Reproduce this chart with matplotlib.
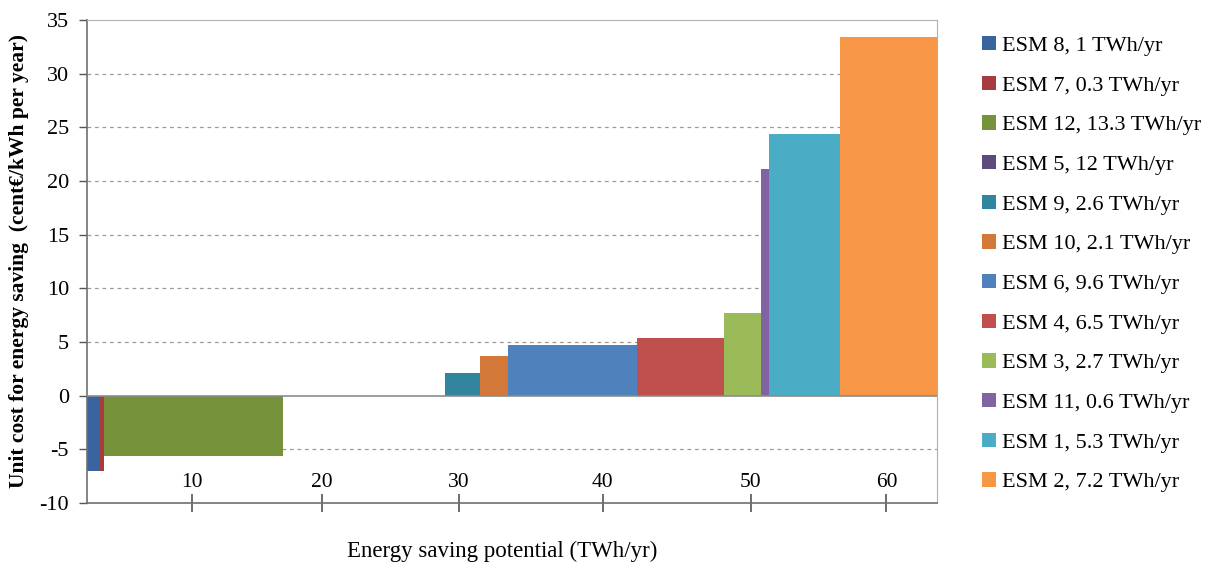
import matplotlib
matplotlib.use("Agg")
import matplotlib.pyplot as plt
import numpy as np

# Data
labels = ["ESM 8, 1 TWh/yr", "ESM 7, 0.3 TWh/yr", "ESM 12, 13.3 TWh/yr",
          "ESM 5, 12 TWh/yr", "ESM 9, 2.6 TWh/yr", "ESM 10, 2.1 TWh/yr",
          "ESM 6, 9.6 TWh/yr", "ESM 4, 6.5 TWh/yr", "ESM 3, 2.7 TWh/yr",
          "ESM 11, 0.6 TWh/yr", "ESM 1, 5.3 TWh/yr", "ESM 2, 7.2 TWh/yr"]
potential = [1.0, 0.3, 13.3, 12.0, 2.6, 2.1, 9.6, 6.5, 2.7, 0.6, 5.3, 7.2]
unit_cost = [-7.0, -7.0, -5.6, 0.0, 2.1, 3.7, 4.7, 5.4, 7.7, 21.1, 24.4, 33.4]
colors = ["#3A64A0", "#A83B3E", "#76933C", "#5F4A80", "#31859C", "#D2793A",
          "#4F81BD", "#C0504D", "#9BBB59", "#8064A2", "#4BACC6", "#F79646"]

# x tick labels (Excel placed them unevenly)
xtick_labels = ["10", "20", "30", "40", "50", "60"]
xtick_pos = [7.78, 17.45, 27.67, 38.34, 49.37, 59.45]

plt.rcParams['font.family'] = ['Liberation Serif', 'DejaVu Serif']
plt.rcParams['axes.unicode_minus'] = False

fig = plt.figure(figsize=(12.15, 5.68), dpi=100)
ax = fig.add_axes([0.0716, 0.1144, 0.6995, 0.8504])

left = np.concatenate([[0], np.cumsum(potential)[:-1]])
for x0, w, h, c, lab in zip(left, potential, unit_cost, colors, labels):
    ax.bar(x0, h, width=w, align='edge', color=c, label=lab, zorder=2)

ax.set_xlim(0, sum(potential))
ax.set_ylim(-10, 35)
ax.set_yticks(np.arange(-10, 36, 5))
for yv in np.arange(-5, 35, 5):
    if yv == 0:
        ax.axhline(0, color='#8c8c8c', lw=1.2, zorder=3)
    else:
        ax.axhline(yv, color='#9a9a9a', lw=0.9, ls=(0, (3, 3)), zorder=1)

ax.set_xticks(xtick_pos)
ax.set_xticklabels(xtick_labels)
ax.tick_params(axis='x', direction='inout', length=13, width=1.2, pad=-28,
               labelsize=15.5, color='#555555')
ax.tick_params(axis='y', direction='out', length=6, width=1, labelsize=16,
               pad=7, color='#555555')

for s in ['top', 'right']:
    ax.spines[s].set_color('#b0b0b0')
for s in ['left', 'bottom']:
    ax.spines[s].set_color('#6f6f6f')
    ax.spines[s].set_linewidth(1.2)

fig.text(0.016, 0.54, "Unit cost for energy saving  (cent€/kWh per year)",
         rotation=90, ha='center', va='center', fontsize=15.5, fontweight='bold')
fig.text(0.413, 0.03, "Energy saving potential (TWh/yr)", ha='center',
         va='center', fontsize=16.5)

leg = ax.legend(loc='upper left', bbox_to_anchor=(1.043, 0.985), frameon=False,
                fontsize=16, handlelength=0.6, handleheight=0.6,
                handletextpad=0.3, labelspacing=0.89, borderaxespad=0)

fig.savefig("out.png", dpi=100)
